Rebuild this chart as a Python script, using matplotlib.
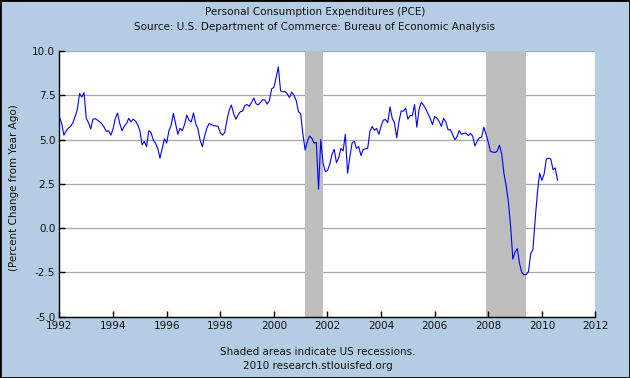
import matplotlib
matplotlib.use("Agg")
import matplotlib.pyplot as plt
from matplotlib.patches import Rectangle
import numpy as np

# PCE, percent change from year ago, monthly from Jan 1992
start_year = 1992
pce_yoy = [
    6.27, 5.9, 5.25, 5.5, 5.65, 5.75, 5.95, 6.3, 6.7, 7.6, 7.4, 7.65,       # 1992
    6.2, 5.95, 5.6, 6.15, 6.18, 6.1, 6.0, 5.88, 5.7, 5.45, 5.5, 5.25,       # 1993
    5.6, 6.2, 6.5, 5.9, 5.5, 5.75, 5.9, 6.2, 6.0, 6.15, 6.05, 5.85,         # 1994
    5.5, 4.7, 4.9, 4.6, 5.5, 5.4, 4.97, 4.8, 4.5, 3.95, 4.5, 5.05,          # 1995
    4.8, 5.5, 5.8, 6.48, 5.9, 5.3, 5.64, 5.5, 5.85, 6.38, 6.1, 6.0,         # 1996
    6.5, 5.9, 5.6, 4.95, 4.6, 5.2, 5.65, 5.9, 5.85, 5.78, 5.78, 5.75,       # 1997
    5.4, 5.25, 5.4, 6.1, 6.67, 6.95, 6.45, 6.15, 6.4, 6.58, 6.6, 6.93,      # 1998
    6.98, 6.88, 7.1, 7.35, 7.03, 6.96, 7.1, 7.25, 7.24, 7.0, 7.2, 7.86,     # 1999
    7.95, 8.5, 9.1, 7.75, 7.7, 7.71, 7.58, 7.38, 7.68, 7.5, 7.2, 6.58,      # 2000
    6.45, 5.3, 4.41, 4.9, 5.2, 5.07, 4.8, 4.84, 2.2, 5.0, 3.7, 3.2,         # 2001
    3.25, 3.6, 4.15, 4.45, 3.7, 3.95, 4.5, 4.36, 5.3, 3.1, 4.0, 4.8,        # 2002
    4.91, 4.5, 4.6, 4.1, 4.44, 4.48, 4.5, 5.45, 5.74, 5.52, 5.63, 5.3,      # 2003
    5.75, 6.1, 6.13, 5.96, 6.85, 6.2, 5.95, 5.1, 6.0, 6.62, 6.6, 6.78,      # 2004
    6.15, 6.36, 6.35, 6.98, 5.7, 6.7, 7.1, 6.95, 6.74, 6.46, 6.2, 5.85,     # 2005
    6.3, 6.22, 6.02, 5.75, 6.2, 6.0, 5.55, 5.56, 5.3, 4.99, 5.16, 5.5,      # 2006
    5.3, 5.35, 5.37, 5.22, 5.35, 5.2, 4.64, 4.9, 5.1, 5.13, 5.7, 5.3,       # 2007
    4.85, 4.32, 4.3, 4.27, 4.35, 4.69, 4.2, 3.1, 2.4, 1.5, 0.1, -1.75,      # 2008
    -1.35, -1.15, -2.0, -2.5, -2.63, -2.62, -2.45, -1.45, -1.2, 0.5, 2.0, 3.1,  # 2009
    2.7, 3.05, 3.9, 3.95, 3.9, 3.3, 3.4, 2.7,                               # 2010
]

recessions = [(2001.17, 2001.83), (2007.92, 2009.42)]
x_ticks = list(range(1992, 2013, 2))
y_ticks = [-5.0, -2.5, 0.0, 2.5, 5.0, 7.5, 10.0]

title = "Personal Consumption Expenditures (PCE)"
subtitle = "Source: U.S. Department of Commerce: Bureau of Economic Analysis"
y_label = "(Percent Change from Year Ago)"
note = "Shaded areas indicate US recessions."
credit = "2010 research.stlouisfed.org"

bg = "#b4cde4"
fs = 7.5

fig = plt.figure(figsize=(6.3, 3.78), dpi=100)
fig.patch.set_facecolor(bg)
ax = fig.add_axes([0.0944, 0.1622, 0.8508, 0.7028])
ax.set_facecolor("white")

dates = start_year + np.arange(len(pce_yoy)) / 12.0

for r0, r1 in recessions:
    ax.axvspan(r0, r1, color="#bebebe", lw=0, zorder=1)

for yv in y_ticks:
    ax.axhline(yv, color="#a8a8a8", lw=0.9, zorder=0.5)

ax.plot(dates, pce_yoy, color="#0000ff", lw=0.8, zorder=3)

ax.set_xlim(1992, 2012)
ax.set_ylim(-5, 10)
ax.set_xticks(x_ticks)
ax.set_xticklabels([str(x) for x in x_ticks])
ax.set_yticks(y_ticks)
ax.set_yticklabels([f"{y:.1f}" for y in y_ticks])
ax.tick_params(direction="in", length=4, width=1, color="black",
               labelsize=fs, labelcolor="#111111", pad=3)

for side in ["top", "right"]:
    ax.spines[side].set_visible(False)
for side in ["left", "bottom"]:
    ax.spines[side].set_color("black")
    ax.spines[side].set_linewidth(1.0)

fig.text(0.5, 1 - 12 / 378, title, ha="center", va="center", fontsize=fs, color="#111111")
fig.text(0.5, 1 - 27 / 378, subtitle, ha="center", va="center", fontsize=fs, color="#111111")
fig.text(14 / 630, 1 - 188 / 378, y_label, ha="center", va="center", rotation=90,
         fontsize=fs, color="#111111")
fig.text(0.505, 1 - 352 / 378, note, ha="center", va="center", fontsize=fs, color="#111111")
fig.text(0.505, 1 - 366 / 378, credit, ha="center", va="center", fontsize=fs, color="#111111")

fig.patches.append(Rectangle((0, 0), 1, 1, transform=fig.transFigure, fill=False,
                             edgecolor="black", lw=2))

fig.savefig("out.png", dpi=100, facecolor=bg)
